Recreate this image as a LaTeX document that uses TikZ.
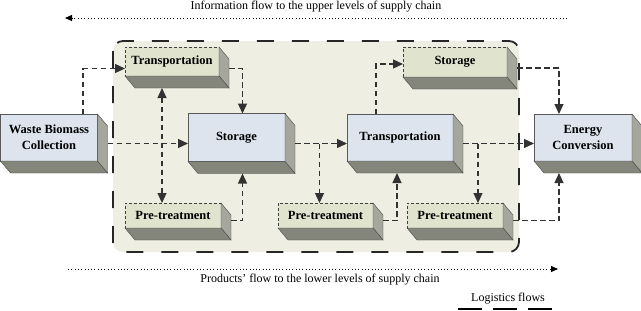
\documentclass[tikz,border=0pt]{standalone}
\usepackage{fontspec}
\setmainfont{Liberation Serif}
\usetikzlibrary{arrows.meta}
\definecolor{panel}{RGB}{238,238,226}
\definecolor{bluebox}{RGB}{221,228,238}
\definecolor{greenbox}{RGB}{224,228,207}
\definecolor{sidegray}{RGB}{165,167,156}
\definecolor{basegray}{RGB}{132,134,124}
\definecolor{flowgray}{RGB}{50,50,50}

\begin{document}
\begin{tikzpicture}[x=1pt, y=-1pt, font=\fontsize{12}{14}\selectfont,
	box/.style={inner sep=0pt, outer sep=0pt, align=center, font=\fontsize{12.5}{16}\selectfont\bfseries},
	bluebx/.style={box, draw=gray!70!black, fill=bluebox},
	greenbx/.style={box, draw=black!75, dash pattern=on 3pt off 2pt, fill=greenbox},
	flow/.style={draw=flowgray, line width=1.2pt, dash pattern=on 5.5pt off 3.5pt, -{Triangle[length=10pt,width=9pt]}},
	infoflow/.style={line width=0.9pt, dash pattern=on 0.9pt off 2.4pt, >={Triangle[length=7pt,width=6pt]}},
	>={Triangle[length=10pt,width=9pt]}]
	\useasboundingbox (0,0) rectangle (641,311);
	% panel of the supply chain stages
	\draw[fill=panel, draw=black!85, line width=1.8pt, dash pattern=on 17pt off 18pt, rounded corners=10pt] (113,41) rectangle (519,252);
	% stages
	\node[bluebx, minimum width=97pt, minimum height=47pt] (waste) at (49,137.5) {Waste Biomass\\Collection};
	\node[greenbx, minimum width=94pt, minimum height=29pt] (trans1) at (172,61.5) {Transportation};
	\node[bluebx, minimum width=97pt, minimum height=48pt] (stor1) at (236.5,137.5) {Storage};
	\node[greenbx, minimum width=96pt, minimum height=25pt] (pre1) at (173,215.5) {Pre-treatment};
	\node[greenbx, minimum width=95pt, minimum height=25pt] (pre2) at (325.5,215.5) {Pre-treatment};
	\node[bluebx, minimum width=106pt, minimum height=47pt] (trans2) at (400,137.5) {Transportation};
	\node[greenbx, minimum width=104pt, minimum height=30pt] (stor2) at (455,62) {Storage};
	\node[greenbx, minimum width=96pt, minimum height=25pt] (pre3) at (455,215.5) {Pre-treatment};
	\node[bluebx, minimum width=98pt, minimum height=47pt] (energy) at (583,137.5) {Energy\\Conversion};
	% depth faces
	\foreach \b in {waste,trans1,stor1,pre1,pre2,trans2,stor2,pre3,energy}{
		\filldraw[fill=sidegray, draw=gray!60!black, line width=0.4pt] (\b.north east) -- ++(10,12) -- ([shift={(10pt,-12pt)}]\b.south east) -- (\b.south east) -- cycle;
		\filldraw[fill=basegray, draw=gray!60!black, line width=0.4pt] (\b.south west) -- (\b.south east) -- ++(10,12) -- ([shift={(10pt,-12pt)}]\b.south west) -- cycle;
	}
	% logistics flows
	\draw[flow] ([xshift=34pt]waste.north) |- ([yshift=-7pt]trans1.west);
	\draw[flow] ([shift={(10pt,-6pt)}]waste.east) -- ([yshift=-6pt]stor1.west);
	\draw[flow] ([shift={(10pt,-7pt)}]trans1.east) -| ([xshift=6pt]stor1.north);
	\draw[flow, <->] ([shift={(-10pt,-12pt)}]trans1.south) -- ([xshift=-11pt]pre1.north);
	\draw[flow] ([shift={(10pt,-5pt)}]pre1.east) -| ([shift={(6pt,-12pt)}]stor1.south);
	\coordinate (j1) at ([shift={(10pt,-6pt)}]stor1.east);
	\coordinate (b2) at ([xshift=-6pt]pre2.north);
	\draw[flow] (j1) -- ([yshift=-6pt]trans2.west);
	\draw[flow] (j1 -| b2) -- (b2);
	\draw[flow] ([shift={(10pt,-5pt)}]pre2.east) -| ([shift={(-3pt,-12pt)}]trans2.south);
	\draw[flow] ([xshift=-24pt]trans2.north) |- ([yshift=-2pt]stor2.west);
	\coordinate (j2) at ([shift={(10pt,-6pt)}]trans2.east);
	\coordinate (b3) at ([xshift=23pt]pre3.north);
	\draw[flow] (j2) -- ([yshift=-6pt]energy.west);
	\draw[flow] (j2 -| b3) -- (b3);
	\draw[flow] ([shift={(10pt,-6pt)}]stor2.east) -| ([xshift=-24pt]energy.north);
	\draw[flow] ([shift={(10pt,-5pt)}]pre3.east) -| ([shift={(-24pt,-12pt)}]energy.south);
	% information and product flows
	\node (infotext) at (316,7) {Information flow to the upper levels of supply chain};
	\coordinate (infoR) at (567,18);
	\coordinate (infoL) at (65,18);
	\draw[infoflow, ->] (infoR) -- (infoL);
	\coordinate (prodL) at (68,269);
	\coordinate (prodR) at (558,269);
	\draw[infoflow, ->] (prodL) -- (prodR);
	\node (prodtext) at (320,280) {Products’ flow to the lower levels of supply chain};
	% legend
	\node (legend) at (508,299) {Logistics flows};
	\draw[line width=2pt, dash pattern=on 24pt off 11pt] (458,309) -- (553,309);
\end{tikzpicture}
\end{document}
